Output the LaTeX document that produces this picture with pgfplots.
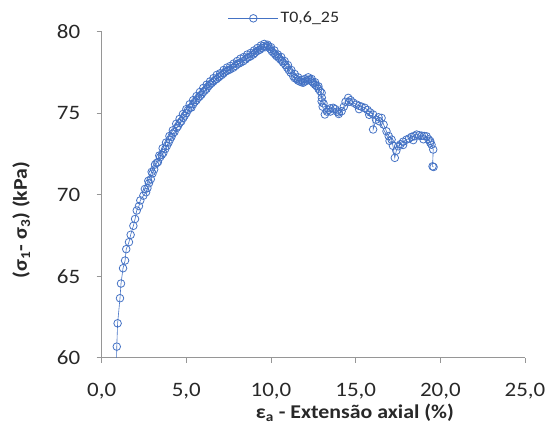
\documentclass[border=0pt]{standalone}
\usepackage{pgfplots}
\pgfplotsset{compat=1.18}
\usepackage{fontspec}
\setmainfont[FakeStretch=1.12]{Carlito}
\definecolor{exblue}{RGB}{68,114,196}
\definecolor{axgray}{RGB}{150,150,150}
\definecolor{txt}{RGB}{40,40,40}
\begin{document}
\begin{tikzpicture}
\useasboundingbox (-101.7pt,-76.3pt) rectangle (449.3pt,357.7pt);
\begin{axis}[
  at={(0pt,0pt)}, anchor=south west,
  scale only axis, width=423.3pt, height=326pt,
  xmin=0, xmax=25, ymin=60, ymax=80,
  axis x line*=bottom, axis y line*=left,
  axis line style={axgray, line width=0.8pt, -},
  x axis line style={-}, y axis line style={-},
  xtick={0,5,10,15,20,25}, ytick={60,65,70,75,80},
  xticklabels={{0,0},{5,0},{10,0},{15,0},{20,0},{25,0}},
  tick style={axgray, line width=0.8pt},
  tick align=outside, major tick length=5pt,
  /pgf/number format/assume math mode=true,
  tick label style={font=\fontsize{20.5}{24}\selectfont, text=txt},
  xticklabel style={yshift=-17pt},
  yticklabel style={xshift=-13pt},
  xlabel={\textbf{ε\textsubscript{a} - Extensão axial (\%)}},
  ylabel={\textbf{(σ\textsubscript{1}- σ\textsubscript{3}) (kPa)}},
  every axis x label/.style={at={(axis description cs:0.598,-0.17)}, anchor=center,
    font=\fontsize{19.5}{22}\selectfont, text=txt},
  every axis y label/.style={at={(axis description cs:-0.19,0.422)}, rotate=90, anchor=center,
    font=\fontsize{19.5}{22}\selectfont, text=txt},
  legend style={at={(axis description cs:0.298,1.041)}, anchor=west, draw=none, fill=none,
    inner sep=0pt, font=\fontsize{16}{18}\selectfont, text=txt},
  legend image code/.code={\draw[mark repeat=2,mark phase=2] plot coordinates {(0pt,0pt)(25pt,0pt)(50pt,0pt)};},
]
\addplot[exblue, line width=0.6pt, mark=o, mark size=3.8pt, mark options={line width=0.8pt}] coordinates {
(0.87,59.0)
(0.89,60.68) (0.94,62.11) (1.08,63.65) (1.14,64.55) (1.26,65.49) (1.38,65.96)
(1.45,66.66) (1.61,67.09) (1.71,67.54) (1.87,68.09) (1.97,68.51) (2.07,69.03)
(2.20,69.30) (2.28,69.65) (2.46,69.94) (2.62,70.15) (2.70,70.40) (2.79,70.70)
(2.90,70.95) (3.00,71.30) (3.10,71.55) (3.25,71.95) (3.32,72.00) (3.45,72.30)
(3.55,72.45) (3.64,72.56) (3.75,72.80) (3.85,73.00) (3.95,73.20) (4.03,73.38)
(4.12,73.55) (4.20,73.75) (4.30,73.85) (4.43,74.10) (4.50,74.20) (4.60,74.40)
(4.70,74.50) (4.82,74.71) (4.90,74.85) (5.00,75.00) (5.10,75.20) (5.21,75.33)
(5.30,75.35) (5.40,75.55) (5.50,75.70) (5.60,75.80) (5.70,75.95) (5.80,76.04)
(5.90,76.15) (6.00,76.30) (6.10,76.40) (6.20,76.50) (6.30,76.65) (6.39,76.76)
(6.50,76.85) (6.60,76.95) (6.70,77.05) (6.80,77.10) (6.90,77.20) (6.98,77.27)
(7.10,77.35) (7.20,77.45) (7.30,77.55) (7.40,77.60) (7.50,77.65) (7.60,77.70)
(7.77,77.79) (7.90,77.90) (8.00,78.00) (8.10,78.05) (8.20,78.10) (8.36,78.19)
(8.50,78.30) (8.60,78.40) (8.70,78.45) (8.80,78.50) (8.95,78.60) (9.05,78.70)
(9.15,78.80) (9.25,78.85) (9.35,78.90) (9.45,79.00) (9.54,79.11) (9.65,79.05)
(9.74,79.10) (9.83,79.11) (9.95,78.95) (10.05,78.80) (10.15,78.70) (10.25,78.60)
(10.33,78.50) (10.45,78.40) (10.55,78.30) (10.65,78.20) (10.72,78.10) (10.85,77.95)
(10.95,77.80) (11.05,77.65) (11.15,77.50) (11.31,77.27) (11.40,77.15) (11.50,77.10)
(11.60,77.00) (11.70,76.95) (11.80,76.90) (11.90,76.87) (12.00,76.95) (12.10,77.00)
(12.20,77.05) (12.30,77.07) (12.40,76.95) (12.50,76.85) (12.60,76.75) (12.69,76.66)
(12.80,76.50) (12.90,76.35) (12.99,76.25) (13.00,75.95) (12.99,75.73) (13.05,75.40)
(13.18,74.92) (13.30,75.10) (13.40,75.20) (13.50,75.30) (13.67,75.33) (13.80,75.25)
(13.90,75.10) (14.00,75.05) (14.17,75.12) (14.30,75.40) (14.40,75.70) (14.56,75.94)
(14.70,75.80) (14.85,75.65) (15.05,75.53) (15.20,75.45) (15.35,75.40) (15.54,75.33)
(15.70,75.20) (15.85,75.05) (16.03,74.92) (16.03,74.00) (16.20,74.60) (16.35,74.75)
(16.53,74.71) (16.65,74.30) (16.82,73.89) (16.95,73.60) (17.12,73.38) (17.20,73.00)
(17.31,72.26) (17.40,72.70) (17.51,72.97) (17.65,73.10) (17.80,73.25) (18.00,73.38)
(18.15,73.45) (18.30,73.55) (18.45,73.60) (18.60,73.69) (18.75,73.65) (18.90,73.62)
(19.05,73.60) (19.19,73.58) (19.30,73.40) (19.40,73.20) (19.48,73.07) (19.58,72.77)
(19.54,71.74) (19.60,71.70)
};
\addlegendentry{T0,6\_25}
\addplot[exblue, line width=0.6pt, mark=o, mark size=3.8pt, mark options={line width=0.8pt}, forget plot] coordinates {
(2.55,70.35) (2.75,70.85) (2.95,71.40) (3.15,71.85) (3.40,72.40) (3.60,72.85)
(3.80,73.20) (4.00,73.60) (4.20,73.95) (4.40,74.35) (4.60,74.65) (4.80,74.95)
(5.00,75.25) (5.20,75.55) (5.40,75.80) (5.60,76.05) (5.80,76.30) (6.00,76.55)
(6.20,76.75) (6.40,76.95) (6.60,77.15) (6.80,77.35) (7.00,77.45) (7.20,77.65)
(7.40,77.80) (7.60,77.90) (7.80,78.05) (8.00,78.20) (8.20,78.35) (8.40,78.45)
(8.60,78.60) (8.80,78.70) (9.00,78.85) (9.20,79.00) (9.40,79.15) (9.60,79.25)
(9.80,79.20) (10.00,79.05) (10.20,78.85) (10.40,78.60) (10.60,78.45) (10.80,78.20)
(11.00,77.95) (11.20,77.65) (11.40,77.40) (11.60,77.20) (11.80,77.05) (12.00,77.10)
(12.20,77.20) (12.40,77.10) (12.60,76.90) (12.80,76.65) (13.10,75.60) (13.50,75.10)
(14.00,74.95) (14.60,75.70) (15.20,75.25) (15.80,74.90) (16.40,74.50) (17.00,73.30)
(17.80,73.05) (18.40,73.35) (19.00,73.40) (19.40,73.30)
};
\end{axis}
\end{tikzpicture}
\end{document}
